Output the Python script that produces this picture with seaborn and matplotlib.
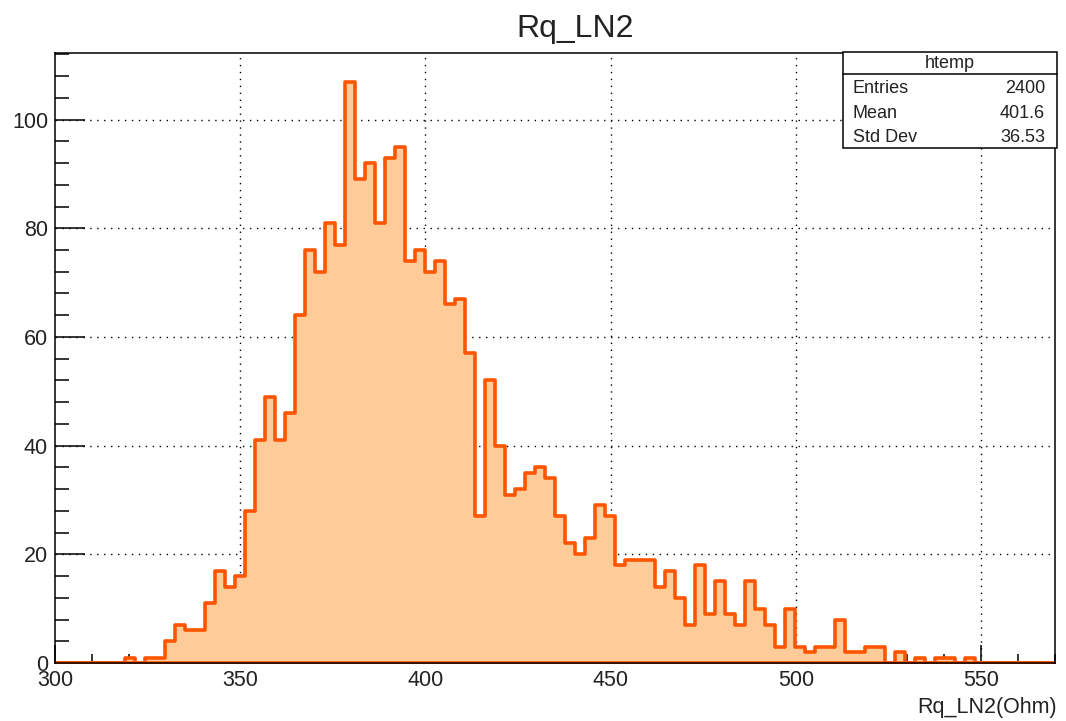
import numpy as np
import pandas as pd
import seaborn as sns
import matplotlib.pyplot as plt
from matplotlib.patches import Rectangle
from matplotlib.lines import Line2D
from matplotlib.ticker import MultipleLocator

# htemp: 100 bins from 300 to 570 Ohm
x_min, x_max, n_bins = 300, 570, 100
counts = [0, 0, 0, 0, 0, 0, 0, 1, 0, 1,
          1, 4, 7, 6, 6, 11, 17, 14, 16, 28,
          41, 49, 41, 46, 64, 76, 72, 81, 77, 107,
          89, 92, 81, 93, 95, 74, 76, 72, 74, 66,
          67, 57, 27, 52, 40, 31, 32, 35, 36, 34,
          27, 22, 20, 23, 29, 27, 18, 19, 19, 19,
          14, 17, 12, 7, 18, 9, 15, 9, 7, 15,
          10, 7, 3, 10, 3, 2, 3, 3, 8, 2,
          2, 3, 3, 0, 2, 0, 1, 0, 1, 1,
          0, 1, 0, 0, 0, 0, 0, 0, 0, 0]
stat_names = ['Entries', 'Mean', 'Std Dev']
stat_values = ['2400', '401.6', '36.53']

edges = np.linspace(x_min, x_max, n_bins + 1)
centers = (edges[:-1] + edges[1:]) / 2
df = pd.DataFrame({'Rq_LN2': centers, 'n': counts})

sns.set_style('white')
plt.rcParams['font.family'] = ['Liberation Sans', 'DejaVu Sans']
plt.rcParams['text.color'] = '#222222'

W, H = 1066, 721
fig = plt.figure(figsize=(W / 100, H / 100), dpi=100)


def fx(px):
    return px / W


def fy(py):
    return 1 - py / H


ax = fig.add_axes([fx(55), fy(663), fx(1055) - fx(55), fy(52.5) - fy(663)])

# dotted grid behind the histogram
for v in range(350, 570, 50):
    ax.axvline(v, color='black', linestyle=(0, (1, 4)), linewidth=1.0, zorder=1)
for v in range(20, 112, 20):
    ax.axhline(v, color='black', linestyle=(0, (1, 4)), linewidth=1.0, zorder=1)

sns.histplot(data=df, x='Rq_LN2', weights='n', bins=list(edges), element='step',
             fill=True, facecolor='#FFCC99', edgecolor='#FF5500',
             linewidth=2.6, alpha=1, ax=ax, zorder=2)

ax.set_xlim(x_min, x_max)
ax.set_ylim(0, 1.05 * max(counts))
ax.set_xlabel('')
ax.set_ylabel('')
ax.xaxis.set_major_locator(MultipleLocator(50))
ax.xaxis.set_minor_locator(MultipleLocator(10))
ax.yaxis.set_major_locator(MultipleLocator(20))
ax.yaxis.set_minor_locator(MultipleLocator(4))
ax.tick_params(which='both', direction='in', bottom=True, left=True,
               top=False, right=False, labelsize=15.5, width=1.1,
               color='black', labelcolor='#222222')
ax.tick_params(axis='x', which='major', length=13, pad=5)
ax.tick_params(axis='x', which='minor', length=6.5)
ax.tick_params(axis='y', which='major', length=21.6, pad=5)
ax.tick_params(axis='y', which='minor', length=10)
for s in ax.spines.values():
    s.set_color('black')
    s.set_linewidth(1.1)

fig.text(fx(575), fy(37), 'Rq_LN2', ha='center', va='baseline', fontsize=23)
fig.text(fx(1057), fy(713), 'Rq_LN2(Ohm)', ha='right', va='baseline', fontsize=15.5)

# stats box
fig.add_artist(Rectangle((fx(843), fy(148)), fx(1057) - fx(843), fy(52.5) - fy(148),
                         transform=fig.transFigure, facecolor='white',
                         edgecolor='black', linewidth=1.1, zorder=5))
fig.add_artist(Line2D([fx(843), fx(1057)], [fy(73.5), fy(73.5)],
                      transform=fig.transFigure, color='black', linewidth=1.1, zorder=6))
fig.text(fx(950), fy(68), 'htemp', ha='center', va='baseline', fontsize=13, zorder=7)
for i, (name, val) in enumerate(zip(stat_names, stat_values)):
    base = 93 + i * 24.5
    fig.text(fx(853), fy(base), name, ha='left', va='baseline', fontsize=13, zorder=7)
    fig.text(fx(1045), fy(base), val, ha='right', va='baseline', fontsize=13, zorder=7)

fig.savefig('out.png', dpi=100)
